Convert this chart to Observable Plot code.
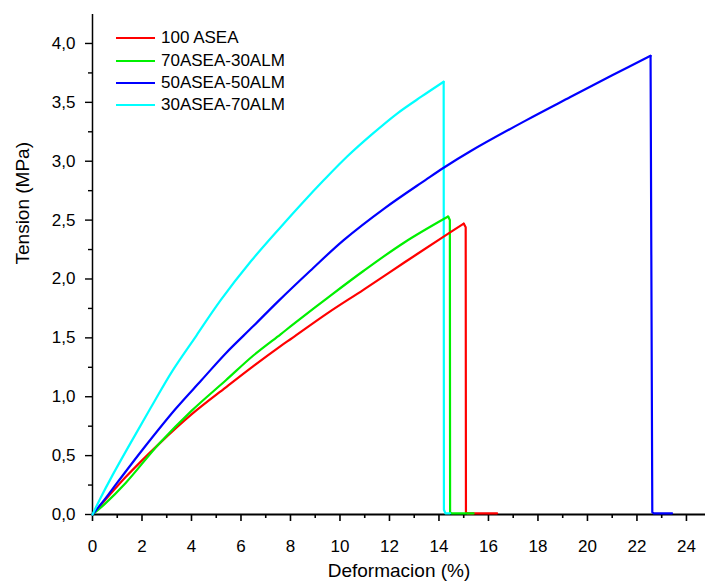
<!DOCTYPE html>
<html><head><meta charset="utf-8">
<script src="https://cdn.jsdelivr.net/npm/d3@7"></script>
<script src="https://cdn.jsdelivr.net/npm/@observablehq/plot@0.6"></script>
<style>
body{margin:0;background:#fff;font-family:"Liberation Sans",Arial,sans-serif;}
#wrap{position:relative;width:705px;height:583px;}
.legend{position:absolute;left:116px;top:27px;font-size:17px;color:#000;}
.legend .row{display:flex;align-items:center;height:22.4px;}
.legend .sw{width:39px;height:0;border-top:2.5px solid;margin-right:6px;}
</style></head><body>
<div id="wrap"></div>
<script>
const seriesNames = ["100 ASEA", "70ASEA-30ALM", "50ASEA-50ALM", "30ASEA-70ALM"];
const seriesColors = ["#ff0000", "#00f000", "#0000ff", "#00ffff"];

const redX = [0, 0.5, 1.35, 2.69, 4, 5.39, 6.5, 7.6, 8.08, 9.5, 10.96, 12.6, 14.19, 15.0, 15.08, 15.09, 15.15, 16.35];
const redY = [0, 0.12, 0.32, 0.60, 0.85, 1.08, 1.26, 1.43, 1.50, 1.71, 1.91, 2.14, 2.36, 2.47, 2.44, 0.02, 0.01, 0.01];

const greenX = [0, 0.5, 1.35, 2.69, 4, 5.39, 6.5, 7.6, 8.08, 9.5, 10.96, 12.6, 14.37, 14.44, 14.45, 14.5, 15.4];
const greenY = [0, 0.09, 0.27, 0.60, 0.88, 1.14, 1.35, 1.53, 1.61, 1.84, 2.07, 2.31, 2.53, 2.50, 0.02, 0.01, 0.01];

const blueX = [0, 0.5, 1.0, 2.02, 3.37, 4.4, 5.39, 6.5, 7.5, 8.8, 10.15, 11.8, 13.45, 14.19, 15.27, 17.5, 19.31, 21, 22.55, 22.62, 22.68, 23.42];
const blueY = [0, 0.13, 0.27, 0.55, 0.90, 1.14, 1.37, 1.60, 1.81, 2.07, 2.33, 2.60, 2.84, 2.945, 3.085, 3.345, 3.545, 3.73, 3.895, 0.02, 0.01, 0.01];

const cyanX = [0, 0.3, 0.8, 1.75, 2.5, 3.23, 4.2, 5.18, 6.4, 7.6, 8.5, 9.35, 10.29, 11.3, 12.31, 13.3, 14.19, 14.2, 14.26, 14.45];
const cyanY = [0, 0.13, 0.33, 0.685, 0.96, 1.22, 1.52, 1.82, 2.15, 2.44, 2.65, 2.84, 3.04, 3.23, 3.405, 3.55, 3.675, 0.04, 0.01, 0.01];

const xMajorTicks = [0, 2, 4, 6, 8, 10, 12, 14, 16, 18, 20, 22, 24];
const xMinorTicks = [1, 3, 5, 7, 9, 11, 13, 15, 17, 19, 21, 23];
const yMajorTicks = [0, 0.5, 1.0, 1.5, 2.0, 2.5, 3.0, 3.5, 4.0];
const yMinorTicks = [0.25, 0.75, 1.25, 1.75, 2.25, 2.75, 3.25, 3.75];
const xTitle = "Deformacion (%)";
const yTitle = "Tension (MPa)";

const allX = [redX, greenX, blueX, cyanX];
const allY = [redY, greenY, blueY, cyanY];
// split each series at its peak: smooth rising part, straight break/drop part
const rising = [], drop = [];
allX.forEach((xs, i) => {
  const ys = allY[i];
  const peak = ys.indexOf(Math.max(...ys));
  xs.forEach((x, j) => {
    const row = {series: seriesNames[i], x, y: ys[j]};
    if (j <= peak) rising.push(row);
    if (j >= peak) drop.push(row);
  });
});

const fmtY = d => d.toFixed(1).replace(".", ",");

const chart = Plot.plot({
  width: 705, height: 583,
  marginTop: 14, marginBottom: 69, marginLeft: 92, marginRight: 0,
  x: {domain: [0, 24.77]},
  y: {domain: [0, 4.246]},
  color: {domain: seriesNames, range: seriesColors},
  style: {fontFamily: "Liberation Sans, Arial, sans-serif", fontSize: "17px", color: "#000", background: "#fff", overflow: "visible"},
  marks: [
    Plot.axisX(xMajorTicks, {tickSize: 7, tickPadding: 18, tickFormat: d => String(d), strokeWidth: 1.6, fontSize: 17, label: null}),
    Plot.axisX(xMinorTicks, {tickSize: 4, tickFormat: () => "", strokeWidth: 1.6, label: null}),
    Plot.axisY(yMajorTicks, {tickSize: 7, tickPadding: 10, tickFormat: fmtY, strokeWidth: 1.4, fontSize: 17, label: null}),
    Plot.axisY(yMinorTicks, {tickSize: 4, tickFormat: () => "", strokeWidth: 1.4, label: null}),
    Plot.ruleX([0], {stroke: "#000", strokeWidth: 1.5}),
    Plot.ruleY([0], {stroke: "#000", strokeWidth: 2.2}),
    Plot.line(drop, {x: "x", y: "y", z: "series", stroke: "series", strokeWidth: 2.2, strokeLinejoin: "round", curve: "linear"}),
    Plot.line(rising, {x: "x", y: "y", z: "series", stroke: "series", strokeWidth: 2.2, strokeLinejoin: "round", strokeLinecap: "round", curve: "catmull-rom"}),
    Plot.text([xTitle], {frameAnchor: "bottom", dy: 56, lineAnchor: "middle", text: d => d, fontSize: 19}),
    Plot.text([yTitle], {frameAnchor: "left", dx: -70, rotate: -90, lineAnchor: "middle", text: d => d, fontSize: 19})
  ]
});

const wrap = document.getElementById("wrap");
wrap.appendChild(chart);
const legend = document.createElement("div");
legend.className = "legend";
seriesNames.forEach((name, i) => {
  const row = document.createElement("div");
  row.className = "row";
  const sw = document.createElement("span");
  sw.className = "sw";
  sw.style.borderTopColor = seriesColors[i];
  const label = document.createElement("span");
  label.textContent = name;
  row.appendChild(sw); row.appendChild(label);
  legend.appendChild(row);
});
wrap.appendChild(legend);
</script>
</body></html>
